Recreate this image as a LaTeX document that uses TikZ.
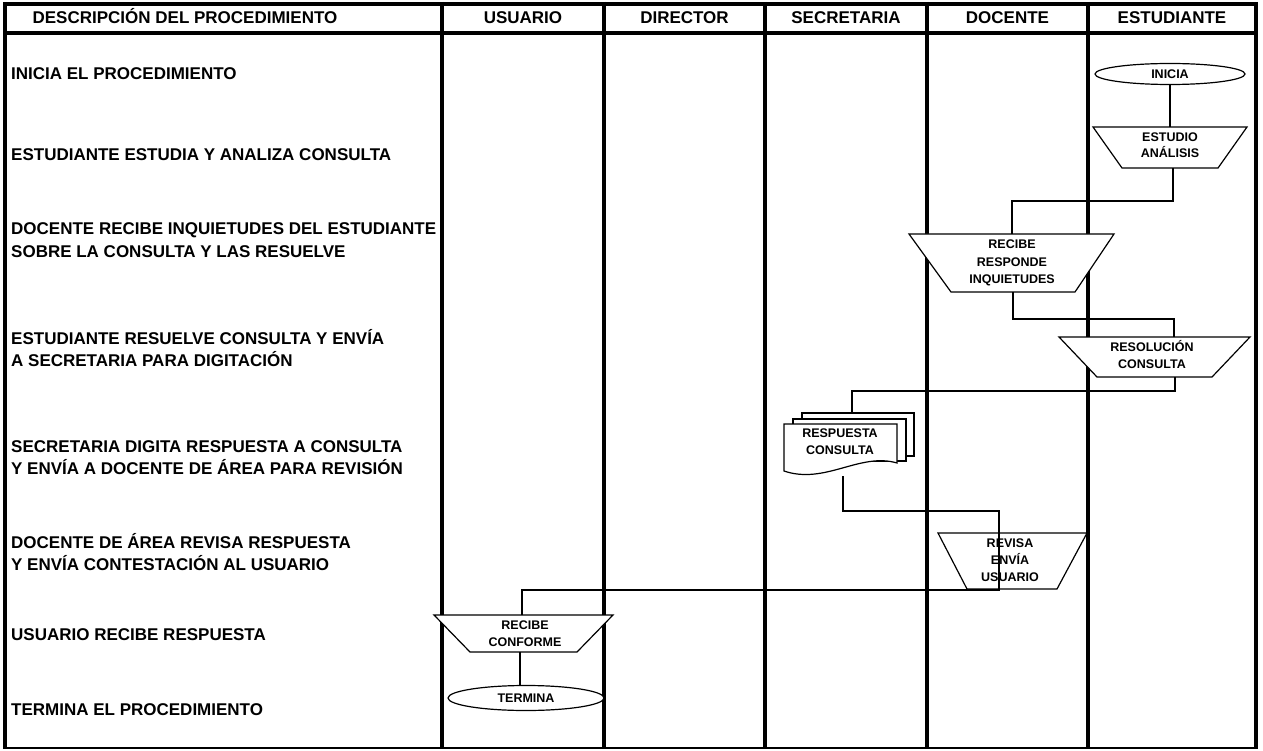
\documentclass[tikz,border=0pt]{standalone}
\usepackage{fontspec}
\setmainfont{Liberation Sans}
\usetikzlibrary{shapes.geometric}
\tikzset{
  lane/.style={line width=4.5pt},
  conn/.style={line width=1.2pt},
  shp/.style={draw, line width=1.2pt, fill=white, line join=miter},
  rowtxt/.style={anchor=base west, inner sep=0pt, font=\fontsize{17}{20}\selectfont\bfseries},
  hdr/.style={anchor=base, inner sep=0pt, font=\fontsize{17}{20}\selectfont\bfseries},
  stxt/.style={anchor=base, inner sep=0pt, font=\fontsize{12.5}{15}\selectfont\bfseries},
  term/.style={ellipse, draw, line width=1.2pt, fill=white, inner sep=0pt, font=\fontsize{12.5}{15}\selectfont\bfseries},
}
\begin{document}
\begin{tikzpicture}[x=1pt,y=-1pt]
\useasboundingbox (0,0) rectangle (1263,751);
% frame and lanes
\draw[lane] (5,4) -- (1256,4);
\draw[lane] (5,33) -- (1256,33);
\draw[line width=2.5pt] (5,748) -- (1256,748);
\foreach \x in {5,442,604,765,927,1088,1256}{\draw[lane] (\x,2) -- (\x,749);}
% header
\node[hdr] (h0) at (185,24) {DESCRIPCIÓN DEL PROCEDIMIENTO};
\node[hdr] (h1) at (523,24) {USUARIO};
\node[hdr] (h2) at (684.5,24) {DIRECTOR};
\node[hdr] (h3) at (846,24) {SECRETARIA};
\node[hdr] (h4) at (1007.5,24) {DOCENTE};
\node[hdr] (h5) at (1172,24) {ESTUDIANTE};
% description rows
\node[rowtxt] (r1) at (11,80) {INICIA EL PROCEDIMIENTO};
\node[rowtxt] (r2) at (11,161) {ESTUDIANTE ESTUDIA Y ANALIZA CONSULTA};
\node[rowtxt] (r3a) at (11,235) {DOCENTE RECIBE INQUIETUDES DEL ESTUDIANTE};
\node[rowtxt] (r3b) at (11,258) {SOBRE LA CONSULTA Y LAS RESUELVE};
\node[rowtxt] (r4a) at (11,344) {ESTUDIANTE RESUELVE CONSULTA Y ENVÍA};
\node[rowtxt] (r4b) at (11,366) {A SECRETARIA PARA DIGITACIÓN};
\node[rowtxt] (r5a) at (11,452) {SECRETARIA DIGITA RESPUESTA A CONSULTA};
\node[rowtxt] (r5b) at (11,474) {Y ENVÍA A DOCENTE DE ÁREA PARA REVISIÓN};
\node[rowtxt] (r6a) at (11,548) {DOCENTE DE ÁREA REVISA RESPUESTA};
\node[rowtxt] (r6b) at (11,570) {Y ENVÍA CONTESTACIÓN AL USUARIO};
\node[rowtxt] (r7) at (11,640) {USUARIO RECIBE RESPUESTA};
\node[rowtxt] (r8) at (11,715) {TERMINA EL PROCEDIMIENTO};
% shapes
\node[term, minimum width=150pt, minimum height=21pt] (inicia) at (1170,74) {INICIA};
\draw[shp] (1093,127) -- (1247,127) -- (1218,168) -- (1122,168) -- cycle;
\node[stxt] (s2a) at (1170,141.5) {ESTUDIO};
\node[stxt] (s2b) at (1170,158) {ANÁLISIS};
\draw[shp] (909,234) -- (1114,234) -- (1075,292) -- (951,292) -- cycle;
\node[stxt] (s3a) at (1012,248.5) {RECIBE};
\node[stxt] (s3b) at (1012,266) {RESPONDE};
\node[stxt] (s3c) at (1012,283.5) {INQUIETUDES};
\draw[shp] (1059,337) -- (1250,337) -- (1212,377) -- (1097,377) -- cycle;
\node[stxt] (s4a) at (1152,351.5) {RESOLUCIÓN};
\node[stxt] (s4b) at (1152,368.5) {CONSULTA};
\draw[shp] (802,413) rectangle (914,456);
\draw[shp] (793,419) rectangle (906,461);
\draw[shp] (784,424) -- (897,424) -- (897,463) .. controls (860,452) and (825,485) .. (784,471) -- cycle;
\node[stxt] (s5a) at (840,437.5) {RESPUESTA};
\node[stxt] (s5b) at (840,454.5) {CONSULTA};
\draw[shp] (938,533) -- (1087,533) -- (1057,589) -- (967,589) -- cycle;
\node[stxt] (s6a) at (1010,547.5) {REVISA};
\node[stxt] (s6b) at (1010,564.5) {ENVÍA};
\node[stxt] (s6c) at (1010,581.5) {USUARIO};
\draw[shp] (434,615) -- (613,615) -- (577,652) -- (470,652) -- cycle;
\node[stxt] (s7a) at (525,629.5) {RECIBE};
\node[stxt] (s7b) at (525,646.5) {CONFORME};
\node[term, minimum width=156pt, minimum height=25pt] (termina) at (526,698) {TERMINA};
% connector end points
\coordinate (estudio-t) at (1170,127);
\coordinate (estudio-b) at (1173,168);
\coordinate (recibe-t) at (1012,234);
\coordinate (recibe-b) at (1013,292);
\coordinate (resol-t) at (1174,337);
\coordinate (resol-b) at (1175,377);
\coordinate (doc-t) at (852,413);
\coordinate (doc-b) at (843,476);
\coordinate (revisa-t) at (999,533);
\coordinate (revisa-b) at (999,590);
\coordinate (conf-t) at (522,615);
\coordinate (conf-b) at (520,652);
% connectors
\draw[conn] (inicia.south) -- (estudio-t);
\draw[conn] (estudio-b) -- ++(0,33) -| (recibe-t);
\draw[conn] (recibe-b) -- ++(0,27) -| (resol-t);
\draw[conn] (resol-b) -- ++(0,14) -| (doc-t);
\draw[conn] (doc-b) -- ++(0,35) -| (revisa-t);
\draw[conn] (revisa-t) -- (revisa-b) -| (conf-t);
\draw[conn] (conf-b) -- (conf-b |- termina.north);
\end{tikzpicture}
\end{document}
